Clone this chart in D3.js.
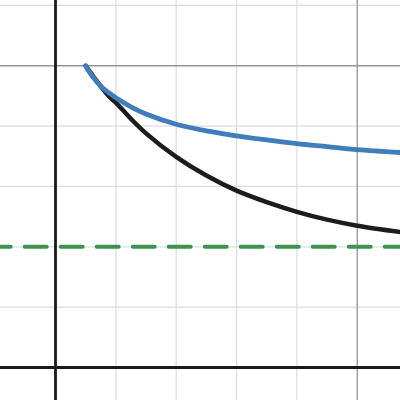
<!DOCTYPE html>
<html><head><meta charset="utf-8">
<script src="https://cdn.jsdelivr.net/npm/d3@7"></script>
<style>html,body{margin:0;padding:0;background:#fff;overflow:hidden}</style>
</head><body>
<svg id="c" width="400" height="400"></svg>
<script>
// data
const xs        = [0.5, 0.6, 0.75, 0.9, 1, 1.25, 1.5, 2, 2.5, 3, 3.5, 4, 4.5, 5, 5.75];
const blackVals = [5.0, 4.86, 4.66, 4.48, 4.39, 4.12, 3.88, 3.49, 3.18, 2.93, 2.74, 2.58, 2.45, 2.35, 2.24];
const blueVals  = [5.0, 4.84, 4.66, 4.54, 4.47, 4.32, 4.20, 4.03, 3.92, 3.84, 3.77, 3.71, 3.66, 3.61, 3.56];
const asymptote = 2;
const gridX = [-1, 0, 1, 2, 3, 4, 5, 6];
const gridY = [-1, 0, 1, 2, 3, 4, 5, 6];
const majorX = [5];
const majorY = [5];

const W = 400, H = 400;
const unit = 60.35, ox = 55.5, oy = 367.5;
const x = d3.scaleLinear().domain([(0 - ox) / unit, (W - ox) / unit]).range([0, W]);
const y = d3.scaleLinear().domain([(oy - H) / unit, oy / unit]).range([H, 0]);

const svg = d3.select("#c");
svg.append("defs").append("clipPath").attr("id", "clip")
  .append("rect").attr("width", W).attr("height", H);
const g = svg.append("g").attr("clip-path", "url(#clip)");

// minor grid
g.selectAll(".gx").data(gridX.filter(v => v !== 0 && !majorX.includes(v))).join("line")
  .attr("x1", d => x(d)).attr("x2", d => x(d)).attr("y1", 0).attr("y2", H)
  .attr("stroke", "#dcdcdc").attr("stroke-width", 1.2);
g.selectAll(".gy").data(gridY.filter(v => v !== 0 && !majorY.includes(v))).join("line")
  .attr("y1", d => y(d)).attr("y2", d => y(d)).attr("x1", 0).attr("x2", W)
  .attr("stroke", "#dcdcdc").attr("stroke-width", 1.2);
// major grid
g.selectAll(".mx").data(majorX).join("line")
  .attr("x1", d => x(d)).attr("x2", d => x(d)).attr("y1", 0).attr("y2", H)
  .attr("stroke", "#959595").attr("stroke-width", 1.3);
g.selectAll(".my").data(majorY).join("line")
  .attr("y1", d => y(d)).attr("y2", d => y(d)).attr("x1", 0).attr("x2", W)
  .attr("stroke", "#959595").attr("stroke-width", 1.3);
// axes
g.append("line").attr("x1", x(0)).attr("x2", x(0)).attr("y1", 0).attr("y2", H)
  .attr("stroke", "#1a1a1a").attr("stroke-width", 2.8);
g.append("line").attr("y1", y(0)).attr("y2", y(0)).attr("x1", 0).attr("x2", W)
  .attr("stroke", "#1a1a1a").attr("stroke-width", 2.8);

// asymptote dashed
g.append("line").attr("x1", x(x.domain()[0])).attr("x2", x(x.domain()[1]))
  .attr("y1", y(asymptote)).attr("y2", y(asymptote))
  .attr("stroke", "#3e9151").attr("stroke-width", 4)
  .attr("stroke-linecap", "round")
  .attr("stroke-dasharray", "22 14").attr("stroke-dashoffset", 11.3);

const line = d3.line().x(d => x(d[0])).y(d => y(d[1])).curve(d3.curveCatmullRom.alpha(0.5));
g.append("path").datum(xs.map((v, i) => [v, blackVals[i]]))
  .attr("d", line).attr("fill", "none").attr("stroke", "#1c1c1c")
  .attr("stroke-width", 4.5).attr("stroke-linecap", "round");
g.append("path").datum(xs.map((v, i) => [v, blueVals[i]]))
  .attr("d", line).attr("fill", "none").attr("stroke", "#3f7dbd")
  .attr("stroke-width", 4.8).attr("stroke-linecap", "round");
</script>
</body></html>
